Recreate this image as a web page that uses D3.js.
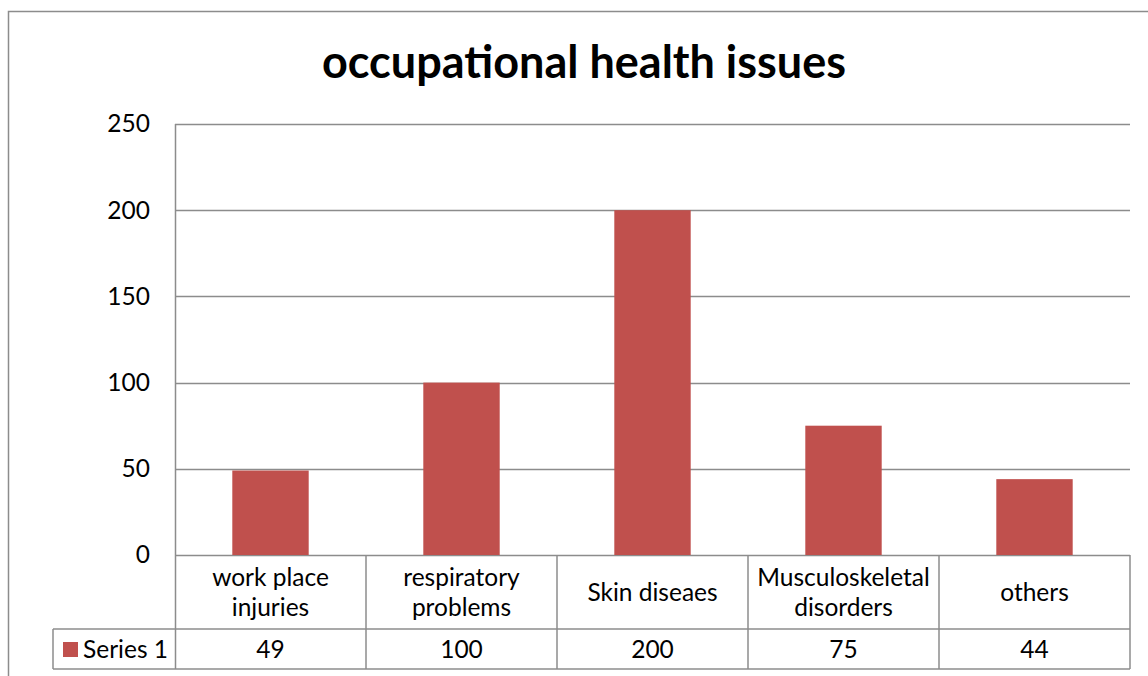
<!DOCTYPE html>
<html>
<head>
<meta charset="utf-8">
<script src="https://cdn.jsdelivr.net/npm/d3@7"></script>
<style>
  body { margin: 0; background: #fff; }
  svg { display: block; font-family: Lato, "Open Sans", sans-serif; }
</style>
</head>
<body>
<svg id="chart" width="1148" height="676"></svg>
<script>
// chart data
var categories = [["work place", "injuries"], ["respiratory", "problems"], ["Skin diseaes"], ["Musculoskeletal", "disorders"], ["others"]];
var values = [49, 100, 200, 75, 44];
var seriesName = "Series 1";
var yTicks = [0, 50, 100, 150, 200, 250];

var svg = d3.select("#chart");
var plotLeft = 175, plotRight = 1130, plotTop = 124, zero = 555;
var rowCat = 629, rowVal = 669, legendLeft = 53;
var gridColor = "#8c8c8c", barColor = "#c0504d";
var fs = 24.5;

// outer frame
svg.append("path")
  .attr("d", "M8.5,676 V11.5 H1148")
  .attr("fill", "none").attr("stroke", gridColor).attr("stroke-width", 1.5);

// title
svg.append("text")
  .attr("x", 584).attr("y", 78)
  .attr("text-anchor", "middle")
  .attr("font-size", 45).attr("font-weight", "bold")
  .text("occupational health issues");

var x = d3.scaleBand().domain(d3.range(values.length)).range([plotLeft, plotRight]);
var y = d3.scaleLinear().domain([0, 250]).range([zero, plotTop]);

// grid lines
svg.append("g").selectAll("line").data(yTicks).enter().append("line")
  .attr("x1", plotLeft).attr("x2", plotRight)
  .attr("y1", function(d) { return Math.round(y(d)) + 0.5; })
  .attr("y2", function(d) { return Math.round(y(d)) + 0.5; })
  .attr("stroke", gridColor).attr("stroke-width", 1.5);

// y axis labels
var yAxis = d3.axisLeft(y).tickValues(yTicks).tickSize(0).tickPadding(25);
var ya = svg.append("g").attr("transform", "translate(" + plotLeft + ",0)").call(yAxis);
ya.select(".domain").remove();
ya.selectAll("text").attr("font-size", fs).attr("font-family", "Lato, sans-serif").attr("fill", "#000");

// bars
var bw = x.bandwidth() * 0.4;
svg.append("g").selectAll("rect").data(values).enter().append("rect")
  .attr("x", function(d, i) { return x(i) + (x.bandwidth() - bw) / 2; })
  .attr("width", bw)
  .attr("y", function(d) { return y(d); })
  .attr("height", function(d) { return y(0) - y(d); })
  .attr("fill", barColor);

// data table
var tbl = svg.append("g").attr("stroke", gridColor).attr("stroke-width", 1.5).attr("fill", "none");
tbl.append("line").attr("x1", plotLeft + 0.5).attr("x2", plotLeft + 0.5).attr("y1", plotTop).attr("y2", rowVal);
x.domain().forEach(function(i) {
  var xr = x(i) + x.bandwidth();
  tbl.append("line").attr("x1", xr).attr("x2", xr).attr("y1", zero).attr("y2", rowVal);
});
tbl.append("line").attr("x1", legendLeft).attr("x2", plotRight).attr("y1", rowCat).attr("y2", rowCat);
tbl.append("line").attr("x1", legendLeft).attr("x2", plotRight).attr("y1", rowVal).attr("y2", rowVal);
tbl.append("line").attr("x1", legendLeft).attr("x2", legendLeft).attr("y1", rowCat).attr("y2", rowVal);

// category labels
var catG = svg.append("g").attr("font-size", fs).attr("text-anchor", "middle");
categories.forEach(function(lines, i) {
  var cx = x(i) + x.bandwidth() / 2;
  var mid = (zero + rowCat) / 2;
  var lh = 30;
  lines.forEach(function(s, j) {
    catG.append("text")
      .attr("x", cx)
      .attr("y", mid + (j - (lines.length - 1) / 2) * lh)
      .attr("dy", "0.35em")
      .text(s);
  });
});

// values row
var valG = svg.append("g").attr("font-size", fs).attr("text-anchor", "middle");
values.forEach(function(v, i) {
  valG.append("text")
    .attr("x", x(i) + x.bandwidth() / 2)
    .attr("y", (rowCat + rowVal) / 2).attr("dy", "0.35em")
    .text(v);
});

// legend cell
svg.append("rect").attr("x", 63).attr("y", 642).attr("width", 15).attr("height", 15).attr("fill", barColor);
svg.append("text").attr("x", 83).attr("y", (rowCat + rowVal) / 2).attr("dy", "0.35em")
  .attr("font-size", fs).text(seriesName);
</script>
</body>
</html>
